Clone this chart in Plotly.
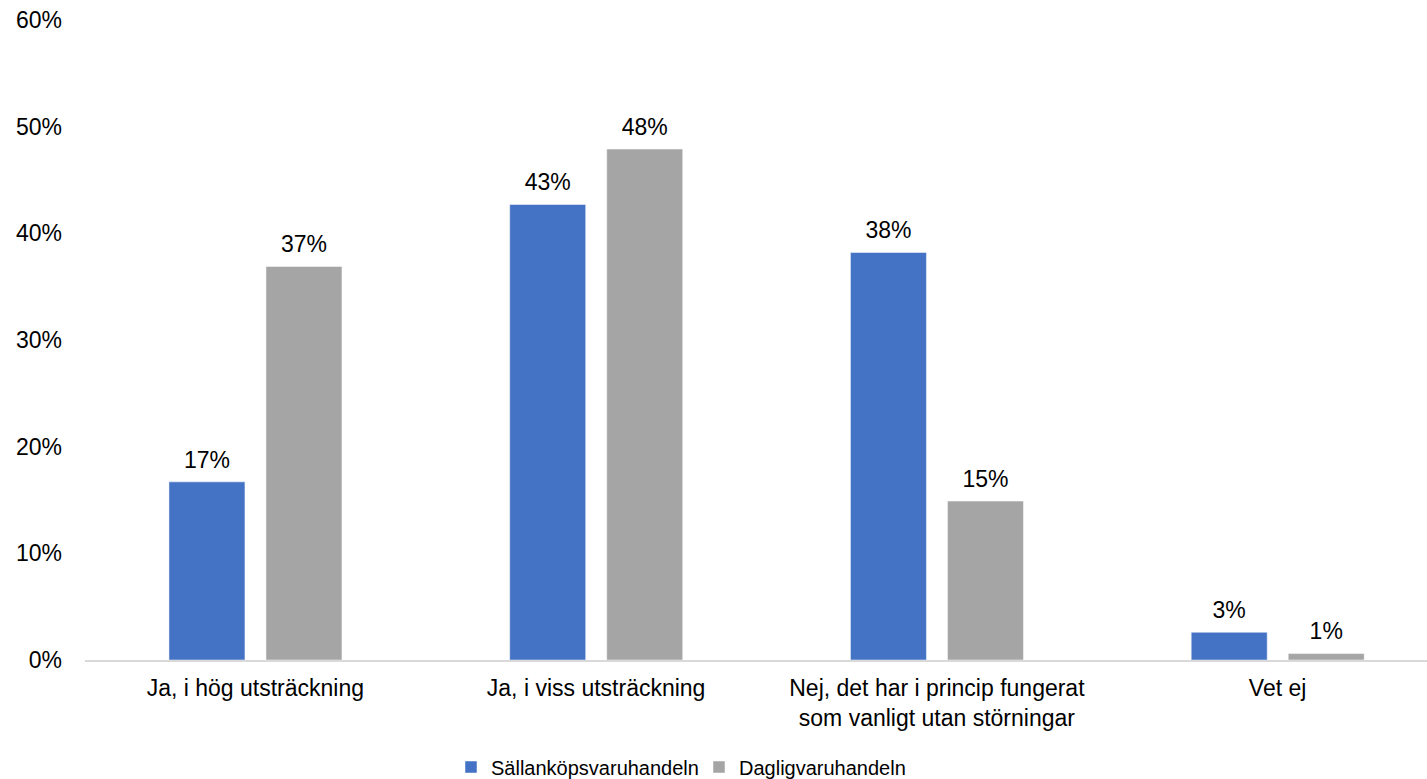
import plotly.graph_objects as go

categories = [
    "Ja, i hög utsträckning",
    "Ja, i viss utsträckning",
    "Nej, det har i princip fungerat<br>som vanligt utan störningar",
    "Vet ej",
]
series_names = ["Sällanköpsvaruhandeln", "Dagligvaruhandeln"]
sallankop = [16.7, 42.7, 38.2, 2.6]
dagligvaru = [36.9, 47.9, 14.9, 0.6]
y_ticks = [0, 10, 20, 30, 40, 50, 60]

colors = ["#4472C4", "#A5A5A5"]
FONT = "Liberation Sans, Arial, sans-serif"
bar_w = 0.223
offsets = [-0.2536, 0.0311]

xs = list(range(len(categories)))
fig = go.Figure()
for name, vals, col, off in zip(series_names, [sallankop, dagligvaru], colors, offsets):
    fig.add_trace(go.Bar(
        x=xs, y=vals, name=name, width=bar_w, offset=off,
        marker=dict(color=col, line=dict(color="rgba(255,255,255,0.6)", width=0.8)),
    ))
for name, vals, off in zip(series_names, [sallankop, dagligvaru], offsets):
    fig.add_trace(go.Scatter(
        x=[x + off + bar_w / 2 for x in xs], y=vals, mode="markers+text",
        marker=dict(size=12, opacity=0), showlegend=False, hoverinfo="skip",
        text=[f"{round(v):.0f}%" for v in vals], textposition="top center",
        textfont=dict(family=FONT, size=23, color="#000000"), cliponaxis=False,
    ))

fig.update_layout(
    width=1427, height=779,
    margin=dict(l=85, r=0, t=20, b=119, autoexpand=False),
    paper_bgcolor="white", plot_bgcolor="white",
    font=dict(family=FONT, size=23, color="#000000"),
    barmode="overlay",
    xaxis=dict(
        range=[-0.5, -0.5 + 1342 / 340.75], tickvals=xs, ticktext=categories,
        showgrid=False, zeroline=False, showline=True, linecolor="#D9D9D9", linewidth=1.5,
        ticks="", ticklabelstandoff=7, fixedrange=True,
    ),
    yaxis=dict(
        range=[0, 60], tickvals=y_ticks, ticktext=[f"{t}%" for t in y_ticks],
        showgrid=False, zeroline=False, showline=False, ticks="", ticklabelstandoff=22,
        fixedrange=True,
    ),
    legend=dict(
        orientation="h", x=451 / 1427, xref="container", xanchor="left",
        y=(779 - 767) / 779, yref="container", yanchor="middle",
        font=dict(family=FONT, size=20, color="#000000"), itemwidth=30,
        entrywidth=203, entrywidthmode="pixels",
        traceorder="normal",
    ),
    showlegend=True,
)

fig.write_html(
    "out.html",
    config={"displayModeBar": False},
    post_script="document.body.style.margin='0px';document.body.style.overflow='hidden';",
)
